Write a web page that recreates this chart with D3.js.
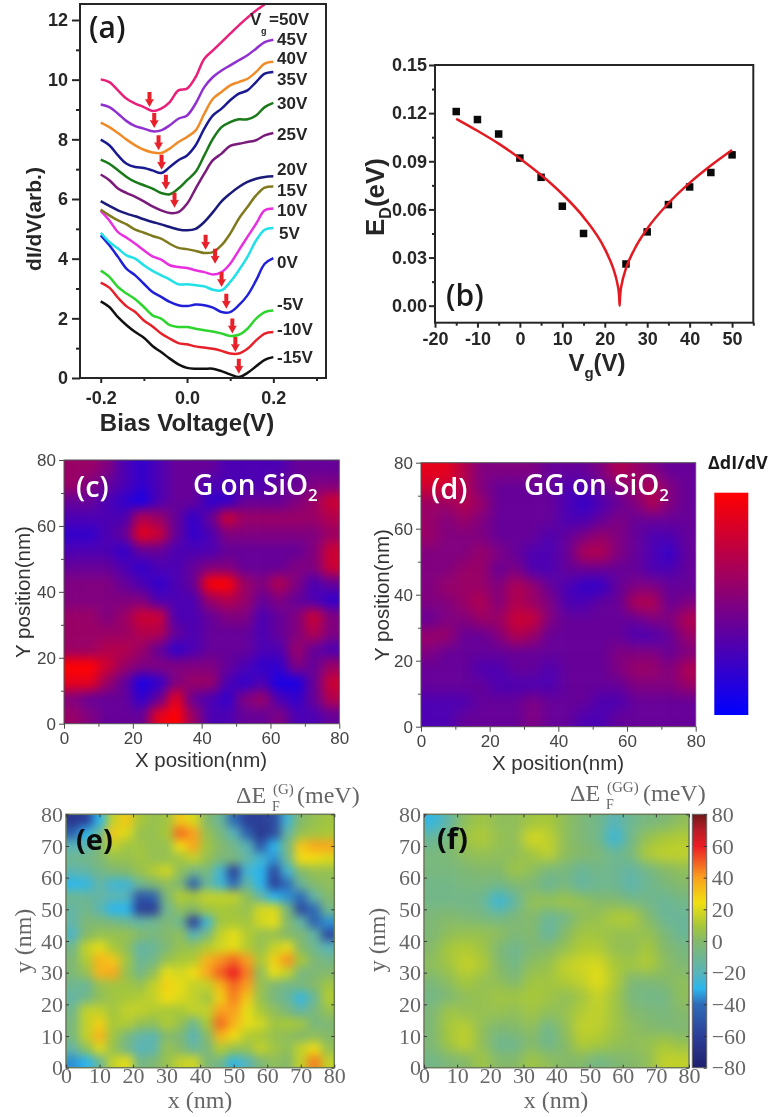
<!DOCTYPE html>
<html>
<head>
<meta charset="utf-8">
<script src="https://cdn.jsdelivr.net/npm/d3@7"></script>
<style>
  html, body { margin: 0; padding: 0; background: #fff; }
  svg { display: block; filter: blur(0.45px); }
</style>
</head>
<body>
<script>
// (a) dI/dV spectra, one row per gate voltage
const bias = [-0.2, -0.18, -0.16, -0.14, -0.12, -0.1, -0.08, -0.06, -0.04, -0.02, 0, 0.02, 0.04, 0.06, 0.08, 0.1, 0.12, 0.14, 0.16, 0.18, 0.2];
const gateLabels = ['-15V', '-10V', '-5V', '0V', '5V', '10V', '15V', '20V', '25V', '30V', '35V', '40V', '45V', '=50V'];
const spec_m15 = [2.57, 2.38, 2.04, 1.77, 1.54, 1.35, 1.07, 0.87, 0.65, 0.46, 0.34, 0.31, 0.31, 0.31, 0.23, 0.12, 0.03, 0.17, 0.39, 0.61, 0.70];
const spec_m10 = [3.2, 3.03, 2.69, 2.40, 2.21, 1.93, 1.73, 1.49, 1.32, 1.17, 1.13, 1.06, 1.02, 0.98, 0.91, 0.82, 0.82, 0.98, 1.26, 1.49, 1.54];
const spec_m5 = [3.6, 3.39, 3.05, 2.83, 2.64, 2.38, 2.10, 1.99, 1.77, 1.71, 1.71, 1.65, 1.60, 1.56, 1.49, 1.41, 1.45, 1.65, 1.99, 2.21, 2.26];
const spec_0 = [4.78, 4.45, 4.06, 3.66, 3.44, 3.16, 2.88, 2.72, 2.55, 2.44, 2.41, 2.46, 2.44, 2.36, 2.21, 2.21, 2.44, 2.77, 3.27, 3.83, 4.02];
const spec_5 = [4.87, 4.56, 4.34, 4.11, 4.0, 3.78, 3.59, 3.44, 3.30, 3.14, 3.14, 3.11, 3.07, 2.96, 2.94, 3.22, 3.61, 4.06, 4.61, 4.97, 5.03];
const spec_10 = [5.6, 5.28, 4.89, 4.70, 4.50, 4.28, 4.08, 3.97, 3.78, 3.72, 3.69, 3.61, 3.55, 3.47, 3.55, 3.83, 4.28, 4.73, 5.17, 5.62, 5.68];
const spec_15 = [5.65, 5.45, 5.28, 5.15, 4.97, 4.87, 4.76, 4.67, 4.50, 4.36, 4.32, 4.26, 4.19, 4.22, 4.45, 4.84, 5.34, 5.73, 6.12, 6.38, 6.42];
const spec_20 = [5.93, 5.77, 5.62, 5.51, 5.42, 5.32, 5.23, 5.15, 5.06, 4.98, 4.95, 5.0, 5.23, 5.56, 5.92, 6.18, 6.40, 6.57, 6.68, 6.74, 6.76];
const spec_25 = [6.82, 6.63, 6.35, 6.20, 6.07, 5.92, 5.75, 5.62, 5.53, 5.56, 5.84, 6.35, 6.85, 7.30, 7.52, 7.78, 7.85, 7.91, 7.97, 8.13, 8.21];
const spec_30 = [7.32, 7.18, 6.96, 6.74, 6.57, 6.46, 6.35, 6.20, 6.16, 6.35, 6.63, 6.91, 7.46, 8.02, 8.41, 8.58, 8.67, 8.67, 8.80, 9.08, 9.22];
const spec_35 = [7.99, 7.80, 7.46, 7.18, 7.07, 7.04, 6.96, 6.87, 7.07, 7.30, 7.46, 7.80, 8.36, 8.80, 9.03, 9.31, 9.53, 9.64, 9.92, 10.2, 10.26];
const spec_40 = [8.56, 8.41, 8.21, 7.99, 7.80, 7.65, 7.56, 7.54, 7.69, 7.91, 8.08, 8.30, 8.86, 9.36, 9.59, 9.81, 9.92, 10.03, 10.26, 10.54, 10.6];
const spec_45 = [9.17, 9.08, 8.86, 8.61, 8.44, 8.36, 8.27, 8.30, 8.47, 8.69, 8.80, 9.20, 9.75, 10.09, 10.31, 10.48, 10.65, 10.82, 11.04, 11.26, 11.34];
const spec_50 = [10.01, 9.92, 9.64, 9.36, 9.20, 9.08, 8.95, 9.03, 9.25, 9.64, 9.70, 10.09, 10.70, 10.98, 11.26, 11.54, 11.82, 12.08, 12.32, 12.52, 12.75];
const spectra = [spec_m15, spec_m10, spec_m5, spec_0, spec_5, spec_10, spec_15, spec_20, spec_25, spec_30, spec_35, spec_40, spec_45, spec_50];

// red arrows in (a): where each tip lands
const arrowBias = [-0.087, -0.076, -0.066, -0.059, -0.049, -0.029, 0.043, 0.065, 0.08, 0.091, 0.105, 0.112, 0.12];
const arrowLevel = [9.08, 8.38, 7.63, 6.98, 6.31, 5.71, 4.30, 3.83, 3.05, 2.32, 1.49, 0.87, 0.145];

// (b) Dirac point energy
const gateV = [-15, -10, -5, 0, 5, 10, 15, 25, 30, 35, 40, 45, 50];
const diracE = [0.121, 0.116, 0.107, 0.092, 0.080, 0.062, 0.045, 0.026, 0.046, 0.063, 0.074, 0.083, 0.094];
const fitV = [-15, -10, -5, 0, 5, 10, 15, 20, 22, 22.5, 23, 23.3, 23.4, 23.5, 23.6, 23.7, 24, 25, 27, 30, 35, 40, 45, 50];
const fitE = [0.1165, 0.109, 0.101, 0.0918, 0.0814, 0.0695, 0.0552, 0.0354, 0.0232, 0.0189, 0.0134, 0.0085, 0.005, 0, 0.005, 0.0085, 0.0134, 0.0232, 0.0352, 0.048, 0.0638, 0.0765, 0.0873, 0.097];

// (c) and (d) maps, rows run from y=80 down to y=0, scale 0 (blue) to 10 (red)
const mapC = [
  [6,6,5,3,2,3,4,4,4,3,3,3,3,4,4,4],
  [6,5,4,3,2,3,4,4,3,3,3,3,4,4,5,5],
  [4,4,3,2,1,3,4,4,2,2,4,4,4,5,6,8],
  [3,3,3,3,7,6,4,2,4,8,6,6,6,6,6,7],
  [2,2,3,4,9,8,4,2,3,5,5,5,5,5,5,6],
  [3,3,3,2,4,4,3,3,3,4,4,4,4,4,5,8],
  [4,4,4,3,2,3,3,4,5,5,4,4,4,5,5,8],
  [5,5,5,4,3,2,3,4,10,10,6,5,7,5,3,4],
  [5,5,5,5,5,3,3,3,6,7,6,4,5,4,3,2],
  [6,6,5,6,8,8,3,3,4,5,5,3,4,5,8,5],
  [6,6,6,6,7,7,4,3,4,4,4,3,4,5,7,5],
  [6,6,7,7,6,4,2,3,4,4,4,3,3,6,4,3],
  [10,10,8,6,5,5,5,5,5,4,3,2,2,5,4,6],
  [9,9,6,4,1,2,5,6,6,3,2,3,1,1,4,8],
  [5,4,4,4,2,4,9,4,3,2,5,6,3,2,4,7],
  [6,5,4,4,4,9,10,6,3,3,4,4,5,3,3,4]
];
const mapD = [
  [9,9,7,5,5,5,5,4,4,4,5,7,6,5,4,4],
  [8,8,7,5,4,4,4,4,3,3,4,5,6,7,5,4],
  [6,6,7,6,4,4,4,4,3,2,3,4,5,7,5,4],
  [6,5,6,5,4,4,4,4,3,3,4,5,4,4,4,4],
  [6,5,5,5,4,4,4,3,4,5,6,5,4,3,3,4],
  [5,5,5,6,5,4,3,3,4,7,7,5,4,3,2,4],
  [5,5,6,6,4,5,3,3,4,4,4,4,4,3,3,4],
  [5,6,6,6,5,7,6,4,3,2,2,4,5,5,4,4],
  [5,5,6,7,5,7,6,5,3,3,4,4,7,7,4,5],
  [4,5,5,6,6,8,8,5,4,4,4,4,4,5,5,7],
  [6,6,4,4,5,7,6,4,4,4,4,4,3,3,4,6],
  [5,4,4,4,4,4,4,4,4,4,4,5,5,5,4,5],
  [4,4,4,3,3,4,4,3,4,4,4,5,6,6,5,7],
  [4,4,4,4,3,3,3,3,4,4,4,4,5,5,5,6],
  [3,3,3,4,4,4,5,4,4,4,3,3,4,4,4,4],
  [3,3,4,4,4,4,5,4,4,3,3,4,4,4,4,4]
];

// (e) and (f) maps in meV, same row order; (e) has finer features so it gets more cells
const mapE = [
  [-65,-60,-30,15,30,10,5,8,30,20,0,-12,-40,-60,-60,-55,-25,0,5,8],
  [-45,-30,-10,30,20,5,5,10,48,40,5,-5,-20,-45,-65,-55,-15,5,8,10],
  [-20,-18,-3,15,8,8,5,5,25,38,8,0,-8,-20,-50,-30,-5,30,38,38],
  [-10,-8,-3,5,5,8,5,5,8,15,5,-3,-5,-15,-25,-35,-10,25,25,20],
  [-18,-15,-8,-3,0,5,12,18,3,-8,-5,-25,-60,-25,-30,-55,-25,0,5,5],
  [-30,-28,-15,-25,-25,-10,-3,3,-3,-45,-12,-25,-40,-15,-30,-60,-40,-12,0,3],
  [-10,-12,-15,-18,-20,-50,-45,-3,12,10,15,15,15,3,-15,-30,-35,-40,-15,0],
  [-15,-8,-18,-30,-30,-60,-60,-10,3,0,8,10,8,5,18,20,-5,-55,-40,-8],
  [-15,-3,-3,-5,-10,-15,-10,-3,-10,-60,-25,8,10,8,18,22,0,-15,-45,-35],
  [-22,0,5,5,5,0,-5,0,3,-20,-5,15,22,12,5,5,0,-3,-15,-55],
  [-8,15,22,10,3,-15,-12,-3,5,5,12,18,22,12,5,15,22,0,-10,-20],
  [-3,12,35,30,8,-12,-8,5,10,12,35,42,48,40,10,28,42,10,-3,-8],
  [-3,5,35,38,5,-8,3,22,18,25,38,50,60,45,3,22,15,-5,-3,0],
  [-10,-12,5,8,8,5,15,28,22,15,15,35,48,40,5,-3,-8,-5,0,8],
  [-15,-8,3,8,10,12,15,25,20,15,8,28,45,30,5,-5,-12,-28,-12,12],
  [-8,15,15,8,15,15,12,10,10,15,15,40,40,22,10,3,-5,-15,-5,5],
  [-5,15,28,10,12,5,3,12,5,-10,10,48,35,22,18,8,10,8,-5,-3],
  [-5,15,35,8,-5,-15,-18,0,-3,-20,0,35,25,12,10,5,3,0,3,0],
  [-15,3,20,5,-8,-20,-18,5,0,-12,-5,12,5,5,15,8,3,15,25,5],
  [-35,-30,-12,15,22,-8,-3,5,15,18,-3,-8,-28,-20,-3,3,0,15,45,15]
];
const mapF = [
  [-28,-15,3,8,3,3,8,10,3,-3,-8,-20,-10,-5,-3,3],
  [-12,-5,8,12,5,3,20,15,3,-3,-8,-28,-8,5,10,12],
  [-5,-3,3,5,3,3,8,15,3,0,-3,-10,-5,12,15,15],
  [-5,-5,-3,0,0,8,3,-5,-5,-12,-8,-10,-15,-8,0,3],
  [-8,-8,-5,-5,-8,-3,-3,-12,-5,-15,-10,-10,-18,-10,-5,0],
  [-8,-8,-8,-10,-28,-15,5,5,8,5,0,0,-5,-8,-12,-8],
  [-3,0,-3,-5,-8,-3,0,-12,-8,3,5,12,12,0,-12,-12],
  [-3,3,5,5,3,-3,0,-15,0,8,8,5,5,5,-3,-12],
  [0,10,12,8,-3,-10,-3,0,5,12,12,5,3,10,0,-5],
  [3,8,16,12,0,-8,3,5,15,18,20,10,8,12,3,-3],
  [-3,3,10,5,3,-3,8,8,12,15,22,12,-3,-3,0,3],
  [-8,-3,3,5,8,8,10,8,3,8,16,8,-5,-8,-8,3],
  [-3,8,5,5,5,3,8,3,5,12,15,8,0,-3,-5,0],
  [-3,10,14,3,-3,0,3,-10,3,15,14,8,3,0,-3,-3],
  [-3,8,15,3,-10,-10,0,-10,0,12,10,5,3,5,10,5],
  [-8,-3,0,8,0,0,8,3,0,0,-8,-3,0,3,15,15]
];

const curveColors = ['#111111', '#e8202a', '#2fd52f', '#2020d8', '#20e0e8', '#e830e0', '#807a1e', '#1a1a7a', '#7a1a7a', '#1a7a1a', '#1a1a90', '#f08c28', '#9030d0', '#e8207a'];
const labelBaselines = [363, 335, 310, 268, 239, 216, 196, 175, 140, 109, 85, 64, 45, 25];

const sans = '"Liberation Sans", Arial, sans-serif';
const serif = '"Liberation Serif", serif';
const callout = '"Open Sans", sans-serif';

const svg = d3.select('body')
  .append('svg')
  .attr('width', 772)
  .attr('height', 1117)
  .attr('viewBox', '0 0 772 1117');

const defs = svg.append('defs');

function put_text(x, y, txt, size, family, weight, fill, anchor)
{
  return svg.append('text')
    .attr('x', x)
    .attr('y', y)
    .attr('font-size', size)
    .attr('font-family', family)
    .attr('font-weight', weight)
    .attr('fill', fill)
    .attr('text-anchor', anchor || 'start')
    .text(txt);
}

function put_rotated(x, y, size, family, weight, fill)
{
  return svg.append('text')
    .attr('transform', 'translate(' + x + ',' + y + ') rotate(-90)')
    .attr('text-anchor', 'middle')
    .attr('font-size', size)
    .attr('font-family', family)
    .attr('font-weight', weight)
    .attr('fill', fill);
}

function put_axis(axis, tx, ty, opts)
{
  const g = svg.append('g')
    .attr('transform', 'translate(' + tx + ',' + ty + ')')
    .call(axis);
  g.select('.domain').remove();
  g.selectAll('.tick line')
    .attr('stroke', opts.color)
    .attr('stroke-width', opts.width);
  g.selectAll('.tick text')
    .attr('fill', opts.text || opts.color)
    .attr('font-size', opts.size)
    .attr('font-family', opts.family)
    .attr('font-weight', opts.weight || 'normal');
  return g;
}

function put_frame(x0, x1, y0, y1, color, width)
{
  svg.append('rect')
    .attr('x', x0)
    .attr('y', y0)
    .attr('width', x1 - x0)
    .attr('height', y1 - y0)
    .attr('fill', 'none')
    .attr('stroke', color)
    .attr('stroke-width', width);
}

// the figure prints a plain hyphen, d3.format would give a long minus
function hyphen_format(spec)
{
  const f = d3.format(spec);
  return d => f(d).replace('−', '-');
}

// ---- (a)
const xA = d3.scaleLinear().domain([-0.248, 0.322]).range([80, 326]);
const yA = d3.scaleLinear().domain([0, 12]).range([378, 20]);
const dark = '#262626';
const optsA = {color: dark, width: 2, size: 18, family: sans, weight: 'bold'};

svg.append('clipPath').attr('id', 'clip_a')
  .append('rect')
  .attr('x', 80).attr('y', 4).attr('width', 246).attr('height', 374);

const line_a = d3.line()
  .x((d, i) => xA(bias[i]))
  .y(d => yA(d))
  .curve(d3.curveCatmullRom);

svg.append('g')
  .attr('clip-path', 'url(#clip_a)')
  .selectAll('path')
  .data(spectra.map((d, i) => i < 13 ? d : d.slice(0, 20)))
  .join('path')
  .attr('d', line_a)
  .attr('fill', 'none')
  .attr('stroke', (d, i) => curveColors[i])
  .attr('stroke-width', 2.5);

// arrows are the same little shape, only moved to each tip
svg.append('g')
  .selectAll('path')
  .data(arrowBias)
  .join('path')
  .attr('transform', (d, i) => 'translate(' + xA(d) + ',' + yA(arrowLevel[i]) + ')')
  .attr('d', 'M0,0 L-4.5,-8 L-2,-7.5 L-2,-15 L2,-15 L2,-7.5 L4.5,-8 Z')
  .attr('fill', '#e8202a');

put_axis(d3.axisLeft(yA).tickValues([1, 3, 5, 7, 9, 11]).tickSize(4).tickFormat(''), 80, 0, optsA);
put_axis(d3.axisLeft(yA).tickValues([0, 2, 4, 6, 8, 10, 12]).tickSize(8).tickPadding(4).tickFormat(d3.format('d')), 80, 0, optsA);
put_axis(d3.axisBottom(xA).tickValues([-0.1, 0.1, 0.3]).tickSize(3).tickFormat(''), 0, 378, optsA);
put_axis(d3.axisBottom(xA).tickValues([-0.2, 0, 0.2]).tickSize(5).tickPadding(8).tickFormat(hyphen_format('.1f')), 0, 378, optsA);
put_frame(80, 326, 4, 378, dark, 2);

gateLabels.forEach(function(d, i) {
  put_text(d == '=50V' ? 269 : (d == '5V' ? 279 : 277), labelBaselines[i], d, 17, sans, 'bold', dark);
});
put_text(250, 25, 'V', 17, sans, 'bold', dark);
put_text(261, 34, 'g', 9, sans, 'bold', dark);

put_text(89, 38, '(a)', 30, callout, 600, '#1a1a1a');
put_text(187, 431, 'Bias Voltage(V)', 24, sans, 'bold', dark, 'middle');
put_rotated(41, 219, 21, sans, 'bold', dark).text('dI/dV(arb.)');

// ---- (b)
const xB = d3.scaleLinear().domain([-20, 55]).range([435, 753.3]);
const yB = d3.scaleLinear().domain([-0.0106, 0.15]).range([322.7, 65]);
const optsB = {color: dark, width: 2, size: 18, family: sans, weight: 'bold'};

put_axis(d3.axisLeft(yB).tickValues([0.015, 0.045, 0.075, 0.105, 0.135]).tickSize(3).tickFormat(''), 435, 0, optsB);
put_axis(d3.axisLeft(yB).tickValues([0, 0.03, 0.06, 0.09, 0.12, 0.15]).tickSize(6).tickPadding(2).tickFormat(d3.format('.2f')), 435, 0, optsB);
put_axis(d3.axisBottom(xB).tickValues([-15, -5, 5, 15, 25, 35, 45, 55]).tickSize(3).tickFormat(''), 0, 322.7, optsB);
put_axis(d3.axisBottom(xB).tickValues([-20, -10, 0, 10, 20, 30, 40, 50]).tickSize(5).tickPadding(5).tickFormat(hyphen_format('d')), 0, 322.7, optsB);
put_frame(435, 753.3, 65, 322.7, dark, 2);

svg.append('g')
  .selectAll('rect')
  .data(gateV)
  .join('rect')
  .attr('x', d => xB(d) - 3.75)
  .attr('y', (d, i) => yB(diracE[i]) - 3.75)
  .attr('width', 7.5)
  .attr('height', 7.5)
  .attr('fill', '#0a0a0a');

svg.append('path')
  .datum(fitV)
  .attr('d', d3.line()
    .x(d => xB(d))
    .y((d, i) => yB(fitE[i]))
    .curve(d3.curveMonotoneX))
  .attr('fill', 'none')
  .attr('stroke', '#e31a22')
  .attr('stroke-width', 2.5);

put_text(446, 306, '(b)', 30, callout, 600, '#1a1a1a');

const vgLabel = put_text(597, 371, 'V', 24, sans, 'bold', dark, 'middle');
vgLabel.append('tspan').attr('dy', 7).attr('font-size', 15).text('g');
vgLabel.append('tspan').attr('dy', -7).text('(V)');

const edLabel = put_rotated(384, 197, 26, sans, 'bold', dark).text('E');
edLabel.append('tspan').attr('dy', 7).attr('font-size', 16).text('D');
edLabel.append('tspan').attr('dy', -7).text('(eV)');

// ---- heat maps, cells get melted together by a blur filter
function add_blur(id, sigma)
{
  defs.append('filter')
    .attr('id', id)
    .attr('x', '-20%').attr('y', '-20%')
    .attr('width', '140%').attr('height', '140%')
    .attr('color-interpolation-filters', 'sRGB')
    .append('feGaussianBlur')
    .attr('stdDeviation', sigma);
}

function draw_map(id, grid, color, sigma, x0, x1, y0, y1)
{
  const cols = d3.range(grid[0].length);
  const rows = d3.range(grid.length);
  const xBand = d3.scaleBand().domain(cols).range([x0, x1]);
  const yBand = d3.scaleBand().domain(rows).range([y0, y1]);
  const spill = 30; // edge cells run on under the clip so the blur has no fade

  add_blur('melt_' + id, sigma);

  svg.append('clipPath').attr('id', 'clip_' + id)
    .append('rect')
    .attr('x', x0).attr('y', y0).attr('width', x1 - x0).attr('height', y1 - y0);

  svg.append('g')
    .attr('clip-path', 'url(#clip_' + id + ')')
    .append('g')
    .attr('filter', 'url(#melt_' + id + ')')
    .selectAll('rect')
    .data(d3.cross(rows, cols))
    .join('rect')
    .attr('x', d => d[1] == 0 ? x0 - spill : xBand(d[1]))
    .attr('y', d => d[0] == 0 ? y0 - spill : yBand(d[0]))
    .attr('width', d => xBand.bandwidth() + 0.5 + (d[1] == 0 || d[1] == cols.length - 1 ? spill : 0))
    .attr('height', d => yBand.bandwidth() + 0.5 + (d[0] == 0 || d[0] == rows.length - 1 ? spill : 0))
    .attr('fill', d => color(grid[d[0]][d[1]]));
}

const blueRed = d3.scaleLinear().domain([0, 10]).range(['#0000ff', '#ff0000']);
const fermiStops = [-80, -60, -40, -30, -20, 0, 10, 24, 40, 60, 70, 80];
const fermiColors = ['#1f1f6e', '#2c3f98', '#2f6cb8', '#2bb6ee', '#59b4b8', '#84b96a', '#a8c838', '#f0e010', '#f9a01f', '#ec1c24', '#b81c28', '#701818'];
const fermi = d3.scaleLinear().domain(fermiStops).range(fermiColors);

function draw_sts_panel(id, grid, sigma, x0, x1, y0, y1)
{
  const x = d3.scaleLinear().domain([0, 80]).range([x0, x1]);
  const y = d3.scaleLinear().domain([0, 80]).range([y1, y0]);
  const opts = {color: '#4a4a4a', width: 1, size: 17, family: sans, text: '#444'};
  draw_map(id, grid, blueRed, sigma, x0, x1, y0, y1);
  put_frame(x0, x1, y0, y1, '#555', 1);
  put_axis(d3.axisLeft(y).tickValues([10, 30, 50, 70]).tickSize(3).tickFormat(''), x0, 0, opts);
  put_axis(d3.axisLeft(y).tickValues([0, 20, 40, 60, 80]).tickSize(5).tickPadding(3), x0, 0, opts);
  put_axis(d3.axisBottom(x).tickValues([10, 30, 50, 70]).tickSize(3).tickFormat(''), 0, y1, opts);
  put_axis(d3.axisBottom(x).tickValues([0, 20, 40, 60, 80]).tickSize(5).tickPadding(3), 0, y1, opts);
}

// ---- (c)
draw_sts_panel('c', mapC, 6, 64, 339.3, 460, 723.7);
put_text(76, 497, '(c)', 29, callout, 600, '#fff');
const cName = put_text(193, 495, 'G on SiO', 28, callout, 600, '#fff');
cName.append('tspan').attr('dy', 6).attr('font-size', 17).text('2');
put_text(201, 767, 'X position(nm)', 20.5, sans, 'normal', '#333', 'middle');
put_rotated(30, 592, 20.5, sans, 'normal', '#333').text('Y position(nm)');

// ---- (d)
draw_sts_panel('d', mapD, 7, 421, 695.7, 462.7, 726.7);
put_text(431, 499, '(d)', 29, callout, 600, '#fff');
const dName = put_text(524, 495, 'GG on SiO', 28, callout, 600, '#fff');
dName.append('tspan').attr('dy', 6).attr('font-size', 17).text('2');
put_text(558, 770, 'X position(nm)', 20.5, sans, 'normal', '#333', 'middle');
put_rotated(389, 595, 20.5, sans, 'normal', '#333').text('Y position(nm)');

// colour bar of (c) and (d)
const barBR = defs.append('linearGradient')
  .attr('id', 'bar_br')
  .attr('x1', 0).attr('y1', 1).attr('x2', 0).attr('y2', 0);
barBR.selectAll('stop')
  .data([0, 10])
  .join('stop')
  .attr('offset', d => d / 10)
  .attr('stop-color', d => blueRed(d));
svg.append('rect')
  .attr('x', 714.3).attr('y', 492.7)
  .attr('width', 34).attr('height', 222.3)
  .attr('fill', 'url(#bar_br)');
put_text(708, 469, 'ΔdI/dV', 18, callout, 700, '#1a1a1a');

// ---- (e), (f)
function draw_fermi_panel(id, grid, sigma, x0, x1, y0, y1)
{
  const x = d3.scaleLinear().domain([0, 80]).range([x0, x1]);
  const y = d3.scaleLinear().domain([0, 80]).range([y1, y0]);
  const ticks = d3.range(0, 90, 10);
  const opts = {color: '#3a3a3a', width: 1, size: 22, family: serif, text: '#666'};
  draw_map(id, grid, fermi, sigma, x0, x1, y0, y1);
  put_frame(x0, x1, y0, y1, '#6a7a58', 1.5);
  put_axis(d3.axisLeft(y).tickValues(ticks).tickSize(-3).tickPadding(3), x0, 0, opts);
  put_axis(d3.axisRight(y).tickValues(ticks).tickSize(-3).tickFormat(''), x1, 0, opts);
  put_axis(d3.axisBottom(x).tickValues(ticks).tickSize(-3).tickPadding(0), 0, y1, opts);
  put_axis(d3.axisTop(x).tickValues(ticks).tickSize(-3).tickFormat(''), 0, y0, opts);
}

function put_fermi_title(x, y, tag)
{
  put_text(x, y, 'ΔE', 24, serif, 'normal', '#666');
  put_text(x + 37, y - 9, tag, 15, serif, 'normal', '#666');
  put_text(x + 36, y + 8, 'F', 14, serif, 'normal', '#666');
  put_text(x + (tag == '(G)' ? 61 : 73), y, '(meV)', 24, serif, 'normal', '#666');
}

draw_fermi_panel('e', mapE, 5, 66, 334.3, 814.3, 1067.7);
put_fermi_title(236, 803, '(G)');
put_text(76, 850, '(e)', 29, callout, 700, '#0a0a0a');
put_text(200, 1108, 'x (nm)', 24, serif, 'normal', '#666', 'middle');
put_rotated(31, 941, 24, serif, 'normal', '#666').text('y (nm)');

draw_fermi_panel('f', mapF, 6.5, 424, 689, 814.3, 1067.7);
put_fermi_title(570, 801, '(GG)');
put_text(437, 849, '(f)', 29, callout, 700, '#0a0a0a');
put_text(556, 1108, 'x  (nm)', 24, serif, 'normal', '#666', 'middle');
put_rotated(385, 940, 24, serif, 'normal', '#666').text('y (nm)');

// colour bar of (e) and (f)
const barFermi = defs.append('linearGradient')
  .attr('id', 'bar_fermi')
  .attr('x1', 0).attr('y1', 1).attr('x2', 0).attr('y2', 0);
barFermi.selectAll('stop')
  .data(fermiStops)
  .join('stop')
  .attr('offset', d => (d + 80) / 160)
  .attr('stop-color', d => fermi(d));
svg.append('rect')
  .attr('x', 692.3).attr('y', 814.3)
  .attr('width', 14.4).attr('height', 253.4)
  .attr('fill', 'url(#bar_fermi)')
  .attr('stroke', '#666')
  .attr('stroke-width', 1);

const yBar = d3.scaleLinear().domain([-80, 80]).range([1067.7, 814.3]);
put_axis(d3.axisRight(yBar).tickValues(d3.range(-80, 100, 20)).tickSize(-3).tickPadding(5)
  .tickFormat(d => d < 0 ? '−' + (-d) : d), 706.7, 0,
  {color: '#333', width: 1, size: 22, family: serif, text: '#666'});
</script>
</body>
</html>
